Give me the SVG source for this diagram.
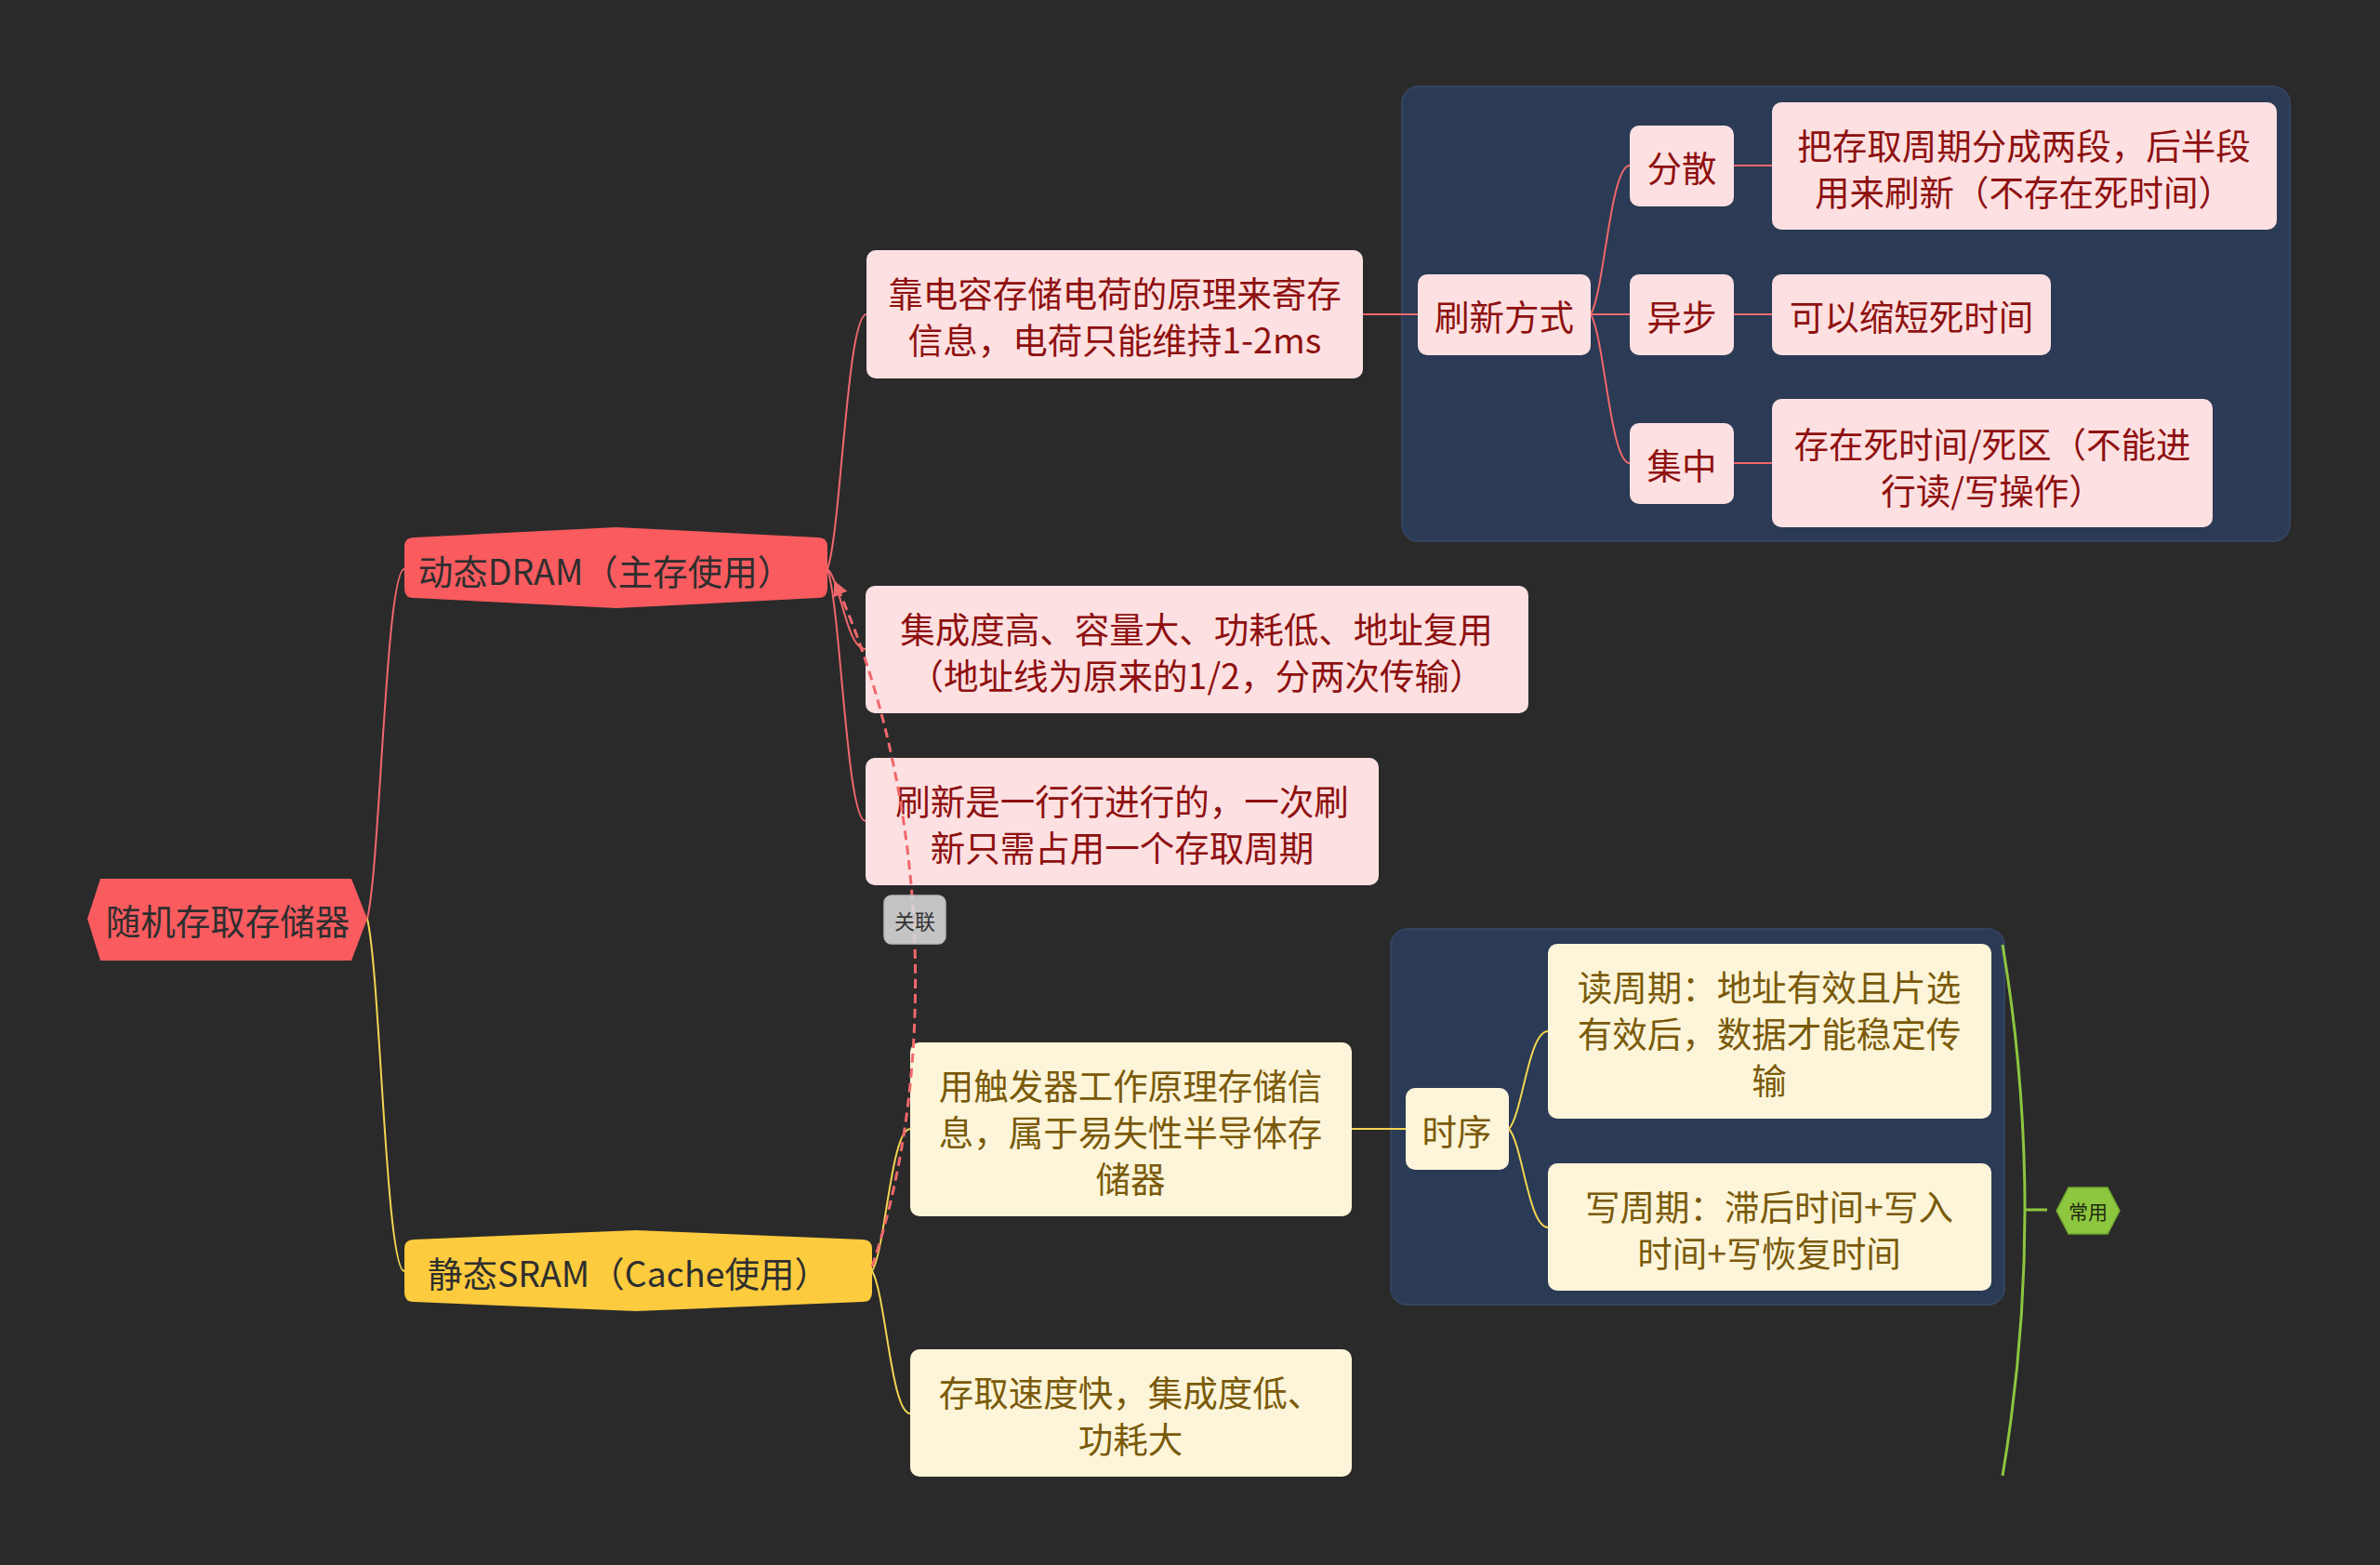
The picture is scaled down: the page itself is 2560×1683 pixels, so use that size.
<svg xmlns="http://www.w3.org/2000/svg" width="2560" height="1683" viewBox="0 0 2560 1683">
<defs>
<style>
text{font-family:"Noto Sans CJK SC","Noto Sans",sans-serif;dominant-baseline:central;text-anchor:middle}
.main{font-size:37.5px;fill:#2e2e2e}
.pk{fill:#fde0e1}
.pkt{font-size:37.5px;fill:#8e1010}
.yl{fill:#fdf5d9}
.ylt{font-size:37.5px;fill:#7a5a0a}
.rl{fill:none;stroke:#f0686c;stroke-width:2}
.yll{fill:none;stroke:#f3d552;stroke-width:2}
.bnd{fill:#2b3a55;stroke:#34435f;stroke-width:2}
</style>
<marker id="arr" viewBox="0 0 10 10" refX="9" refY="5" markerWidth="16" markerHeight="16" markerUnits="userSpaceOnUse" orient="auto">
<path d="M0,0 L10,5 L0,10 z" fill="#f0686c"/>
</marker>
</defs>
<rect width="2560" height="1683" fill="#2a2a2a"/>

<g id="boundary-refresh"><rect class="bnd" x="1508" y="93" width="955" height="489" rx="18"/></g>
<g id="boundary-timing"><rect class="bnd" x="1496" y="999" width="660" height="404" rx="18"/></g>

<g id="connectors">
<path class="rl" d="M395,988 C409,931.6 415,612 435,612"/>
<path class="yll" d="M395,988 C409,1044.9 415,1367 435,1367"/>
<path class="rl" d="M890,612 C904.7,570.9 911,338 932,338"/>
<path class="rl" d="M890,612 C904.4,624.9 910.5,698 931,698"/>
<path class="rl" d="M890,612 C904.4,652.7 910.5,883 931,883"/>
<path class="rl" d="M1466,338 H1525"/>
<path class="rl" d="M1711,338 C1725.7,314 1732,178 1753,178"/>
<path class="rl" d="M1711,338 H1753"/>
<path class="rl" d="M1711,338 C1725.7,362 1732,498 1753,498"/>
<path class="rl" d="M1865,178 H1906"/>
<path class="rl" d="M1865,338 H1906"/>
<path class="rl" d="M1865,498 H1906"/>
<path class="yll" d="M938,1367 C952.4,1344 958.5,1214 979,1214"/>
<path class="yll" d="M938,1367 C952.4,1390 958.5,1520 979,1520"/>
<path class="yll" d="M1454,1214 H1512"/>
<path class="yll" d="M1623,1214 C1637.7,1198.3 1644,1109 1665,1109"/>
<path class="yll" d="M1623,1214 C1637.7,1229.9 1644,1320 1665,1320"/>
<path d="M2154,1016 Q2202,1301 2154,1587" fill="none" stroke="#8dc63f" stroke-width="3"/>
<path d="M2178,1301 H2202" fill="none" stroke="#8dc63f" stroke-width="3"/>
</g>

<g id="root">
<polygon points="94,988 108,945 378,945 395,988 378,1033 108,1033" fill="#f95b5f"/>
<text class="main" x="245" y="988">随机存取存储器</text>
</g>

<g id="dram">
<path d="M445,578 L663,567 L880,578 Q890,578 890,588 L890,633 Q890,643 880,643 L663,654 L445,643 Q435,643 435,633 L435,588 Q435,578 445,578 Z" fill="#f95b5f"/>
<text class="main" x="651" y="612">动态DRAM（主存使用）</text>
</g>

<g id="sram">
<path d="M445,1333 L684,1323 L928,1333 Q938,1333 938,1343 L938,1390 Q938,1400 928,1400 L684,1410 L445,1400 Q435,1400 435,1390 L435,1343 Q435,1333 445,1333 Z" fill="#fdcb3e"/>
<text class="main" x="676" y="1367">静态SRAM（Cache使用）</text>
</g>

<g id="dram-a">
<rect class="pk" x="932" y="269" width="534" height="138" rx="10"/>
<text class="pkt" x="1199" y="313">靠电容存储电荷的原理来寄存</text>
<text class="pkt" x="1199" y="363">信息，电荷只能维持1-2ms</text>
</g>

<g id="dram-b">
<rect class="pk" x="931" y="630" width="713" height="137" rx="10"/>
<text class="pkt" x="1287" y="674">集成度高、容量大、功耗低、地址复用</text>
<text class="pkt" x="1287" y="724">（地址线为原来的1/2，分两次传输）</text>
</g>

<g id="dram-c">
<rect class="pk" x="931" y="815" width="552" height="137" rx="10"/>
<text class="pkt" x="1207" y="859">刷新是一行行进行的，一次刷</text>
<text class="pkt" x="1207" y="909">新只需占用一个存取周期</text>
</g>

<g id="refresh-mode">
<rect class="pk" x="1525" y="295" width="186" height="87" rx="10"/>
<text class="pkt" x="1618" y="338">刷新方式</text>
</g>

<g id="scatter">
<rect class="pk" x="1753" y="135" width="112" height="87" rx="10"/>
<text class="pkt" x="1809" y="178">分散</text>
</g>
<g id="async">
<rect class="pk" x="1753" y="295" width="112" height="87" rx="10"/>
<text class="pkt" x="1809" y="338">异步</text>
</g>
<g id="central">
<rect class="pk" x="1753" y="455" width="112" height="87" rx="10"/>
<text class="pkt" x="1809" y="498">集中</text>
</g>

<g id="scatter-desc">
<rect class="pk" x="1906" y="110" width="543" height="137" rx="10"/>
<text class="pkt" x="2177" y="154">把存取周期分成两段，后半段</text>
<text class="pkt" x="2177" y="204">用来刷新（不存在死时间）</text>
</g>
<g id="async-desc">
<rect class="pk" x="1906" y="295" width="300" height="87" rx="10"/>
<text class="pkt" x="2056" y="338">可以缩短死时间</text>
</g>
<g id="central-desc">
<rect class="pk" x="1906" y="429" width="474" height="138" rx="10"/>
<text class="pkt" x="2143" y="475">存在死时间/死区（不能进</text>
<text class="pkt" x="2143" y="525">行读/写操作）</text>
</g>

<g id="sram-d">
<rect class="yl" x="979" y="1121" width="475" height="187" rx="10"/>
<text class="ylt" x="1216" y="1165">用触发器工作原理存储信</text>
<text class="ylt" x="1216" y="1215">息，属于易失性半导体存</text>
<text class="ylt" x="1216" y="1265">储器</text>
</g>
<g id="sram-e">
<rect class="yl" x="979" y="1451" width="475" height="137" rx="10"/>
<text class="ylt" x="1216" y="1495">存取速度快，集成度低、</text>
<text class="ylt" x="1216" y="1545">功耗大</text>
</g>

<g id="timing">
<rect class="yl" x="1512" y="1170" width="111" height="88" rx="10"/>
<text class="ylt" x="1567" y="1214">时序</text>
</g>
<g id="read-cycle">
<rect class="yl" x="1665" y="1015" width="477" height="188" rx="10"/>
<text class="ylt" x="1903" y="1059">读周期：地址有效且片选</text>
<text class="ylt" x="1903" y="1109">有效后，数据才能稳定传</text>
<text class="ylt" x="1903" y="1159">输</text>
</g>
<g id="write-cycle">
<rect class="yl" x="1665" y="1251" width="477" height="137" rx="10"/>
<text class="ylt" x="1903" y="1295">写周期：滞后时间+写入</text>
<text class="ylt" x="1903" y="1345">时间+写恢复时间</text>
</g>

<g id="relation-connector">
<path d="M938,1362 C1010,1150 1000,850 898,626" fill="none" stroke="#f0686c" stroke-width="3" stroke-dasharray="10 6" marker-end="url(#arr)"/>
</g>

<g id="relation-label">
<rect x="951" y="963" width="66" height="52" rx="8" fill="#d9d9d9" fill-opacity="0.88" stroke="#b8b8b8" stroke-width="1.5"/>
<text x="984" y="989" font-size="22" fill="#333">关联</text>
</g>

<g id="summary-common">
<polygon points="2212,1302 2225,1277 2267,1277 2280,1302 2267,1327 2225,1327" fill="#8dc63f" stroke="#6ea52c" stroke-width="1.5"/>
<text x="2246" y="1302" font-size="21" fill="#1f2a10">常用</text>
</g>
</svg>
